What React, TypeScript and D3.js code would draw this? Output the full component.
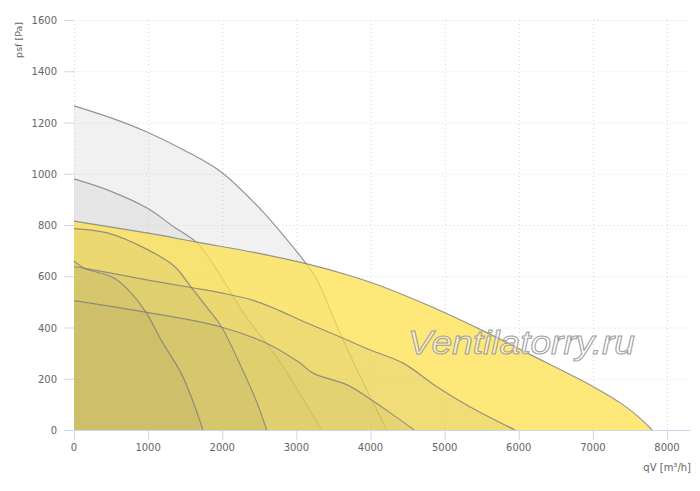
import { useEffect, useRef } from 'react';
import * as d3 from 'd3';

type Pt = [number, number];

// Fan curves: [qV m³/h, psf Pa]
const curveGreyHigh: Pt[] = [
    [0, 1265], [500, 1218], [985, 1163], [1500, 1090], [1985, 1007], [2525, 859],
    [2875, 742], [3145, 644], [3280, 585], [3590, 378], [3950, 156], [4220, 0]
];
const curveGreyMid: Pt[] = [
    [0, 980], [450, 937], [985, 866], [1350, 792], [1660, 730], [1930, 624],
    [2100, 545], [2300, 450], [2550, 355], [2780, 265], [3050, 140], [3340, 0]
];
const curveYellowMax: Pt[] = [
    [0, 815], [1000, 768], [1660, 733], [2430, 693], [3145, 648], [3725, 602],
    [4130, 563], [4845, 478], [5570, 380], [6150, 295], [7000, 170], [7400, 100],
    [7600, 55], [7800, 0]
];
const curve790: Pt[] = [
    [0, 786], [450, 769], [985, 705], [1350, 640], [1580, 558], [1795, 478],
    [1985, 405], [2250, 250], [2450, 120], [2600, 0]
];
const curve640: Pt[] = [
    [0, 638], [500, 612], [1000, 585], [1580, 556], [1985, 535], [2430, 505],
    [2780, 465], [3050, 429], [3590, 363], [4000, 312], [4440, 261], [4900, 168],
    [5345, 90], [5950, 0]
];
const curve505: Pt[] = [
    [0, 505], [970, 460], [1985, 402], [2645, 332], [3050, 261], [3225, 222],
    [3685, 176], [4000, 120], [4300, 60], [4590, 0]
];
const curve660: Pt[] = [
    [0, 660], [135, 632], [540, 593], [770, 535], [970, 460], [1175, 351],
    [1445, 222], [1600, 115], [1740, 0]
];

const xTicks = [0, 1000, 2000, 3000, 4000, 5000, 6000, 7000, 8000];
const yTicks = [0, 200, 400, 600, 800, 1000, 1200, 1400, 1600];

const greyFill = 'rgba(200,200,200,0.25)';
const yellowFill = 'rgba(254,224,78,0.75)';
const oliveFill = 'rgba(150,145,100,0.12)';

const series = [
    { data: curveGreyHigh, fill: greyFill },
    { data: curveGreyMid, fill: greyFill },
    { data: curveYellowMax, fill: yellowFill },
    { data: curve790, fill: oliveFill },
    { data: curve640, fill: oliveFill },
    { data: curve505, fill: oliveFill },
    { data: curve660, fill: oliveFill }
];

export default function App() {
    const svgRef = useRef<SVGSVGElement>(null);

    useEffect(() => {
        if (!svgRef.current) return;
        const svg = d3.select(svgRef.current);
        svg.selectAll('*').remove();

        const left = 74, right = 690, top = 20, bottom = 430;
        const font = '"DejaVu Sans", sans-serif';

        const x = d3.scaleLinear().domain([0, 8310]).range([left, right]);
        const y = d3.scaleLinear().domain([0, 1600]).range([bottom, top]);

        // Grid
        const grid = svg.append('g')
            .attr('stroke', '#d8d8d8')
            .attr('stroke-dasharray', '1,3');
        grid.selectAll('.hgrid')
            .data(yTicks)
            .enter()
            .append('line')
            .attr('x1', left)
            .attr('x2', right)
            .attr('y1', d => y(d) + 0.5)
            .attr('y2', d => y(d) + 0.5);
        grid.selectAll('.vgrid')
            .data(xTicks)
            .enter()
            .append('line')
            .attr('x1', d => x(d) + 0.5)
            .attr('x2', d => x(d) + 0.5)
            .attr('y1', top)
            .attr('y2', bottom);

        // Areas, each with its outline (spline)
        const curve = d3.curveCatmullRom.alpha(0.5);
        const area = d3.area<Pt>()
            .x(d => x(d[0]))
            .y0(y(0))
            .y1(d => y(d[1]))
            .curve(curve);
        const line = d3.line<Pt>()
            .x(d => x(d[0]))
            .y(d => y(d[1]))
            .curve(curve);

        series.forEach(s => {
            svg.append('path')
                .attr('d', area(s.data) || '')
                .attr('fill', s.fill);
            svg.append('path')
                .attr('d', line(s.data) || '')
                .attr('fill', 'none')
                .attr('stroke', '#7d7d7d')
                .attr('stroke-opacity', 0.8)
                .attr('stroke-width', 1.2);
        });

        // X axis
        svg.append('line')
            .attr('x1', left)
            .attr('x2', right)
            .attr('y1', bottom + 0.5)
            .attr('y2', bottom + 0.5)
            .attr('stroke', '#ccd6eb');
        svg.selectAll('.xtick')
            .data(xTicks)
            .enter()
            .append('line')
            .attr('x1', d => x(d) + 0.5)
            .attr('x2', d => x(d) + 0.5)
            .attr('y1', bottom)
            .attr('y2', bottom + 10)
            .attr('stroke', '#ccd6eb');
        svg.selectAll('.xlabel')
            .data(xTicks)
            .enter()
            .append('text')
            .attr('x', d => x(d))
            .attr('y', 451)
            .attr('text-anchor', 'middle')
            .attr('fill', '#666')
            .attr('font-family', font)
            .attr('font-size', '10px')
            .text(d => d);

        // Y axis
        svg.selectAll('.ytick')
            .data(yTicks)
            .enter()
            .append('line')
            .attr('x1', 64)
            .attr('x2', left)
            .attr('y1', d => y(d) + 0.5)
            .attr('y2', d => y(d) + 0.5)
            .attr('stroke', '#ccd6eb');
        svg.selectAll('.ylabel')
            .data(yTicks)
            .enter()
            .append('text')
            .attr('x', 57)
            .attr('y', d => y(d) + 4)
            .attr('text-anchor', 'end')
            .attr('fill', '#666')
            .attr('font-family', font)
            .attr('font-size', '10px')
            .text(d => d);

        // Axis titles
        svg.append('text')
            .attr('transform', 'translate(22,22) rotate(-90)')
            .attr('text-anchor', 'end')
            .attr('fill', '#666')
            .attr('font-family', font)
            .attr('font-size', '9.5px')
            .text('psf [Pa]');
        svg.append('text')
            .attr('x', 691)
            .attr('y', 471)
            .attr('text-anchor', 'end')
            .attr('fill', '#666')
            .attr('font-family', font)
            .attr('font-size', '10px')
            .text('qV [m³/h]');

        // Watermark
        svg.append('text')
            .attr('x', 408)
            .attr('y', 354)
            .attr('font-family', '"Liberation Sans", Arial, sans-serif')
            .attr('font-style', 'italic')
            .attr('font-size', '33px')
            .attr('textLength', 227)
            .attr('lengthAdjust', 'spacingAndGlyphs')
            .attr('fill', 'rgba(255,255,255,0.45)')
            .attr('stroke', '#a0a0a0')
            .attr('stroke-width', 1)
            .text('Ventilatorry.ru');
    }, []);

    return (
        <svg
            ref={svgRef}
            width={700}
            height={491}
            style={{ position: 'absolute', left: 0, top: 0, background: '#fff' }}
        />
    );
}
